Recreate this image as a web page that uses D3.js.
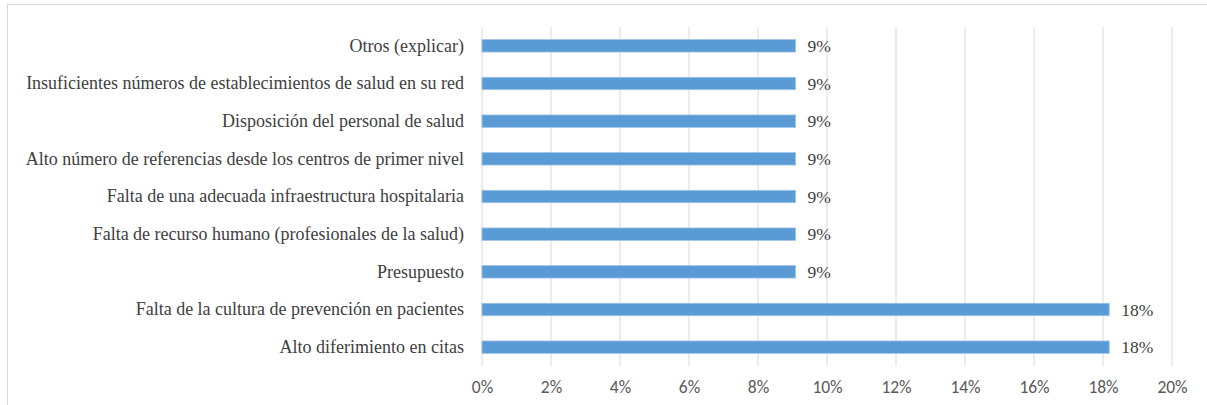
<!DOCTYPE html>
<html>
<head>
<meta charset="utf-8">
<script src="https://cdn.jsdelivr.net/npm/d3@7"></script>
<style>
  body { margin: 0; background: #fff; }
  text.lbl { font-family: "Liberation Serif", "Times New Roman", serif; fill: #404040; }
  text.tick-lbl { font-family: Carlito, Calibri, sans-serif; fill: #595959; }
</style>
</head>
<body>
<div id="chart"></div>
<script>
// categories from top to bottom
const categories = [
  "Otros (explicar)",
  "Insuficientes números de establecimientos de salud en su red",
  "Disposición del personal de salud",
  "Alto número de referencias desde los centros de primer nivel",
  "Falta de una adecuada infraestructura hospitalaria",
  "Falta de recurso humano (profesionales de la salud)",
  "Presupuesto",
  "Falta de la cultura de prevención en pacientes",
  "Alto diferimiento en citas"
];
const values = [0.0909, 0.0909, 0.0909, 0.0909, 0.0909, 0.0909, 0.0909, 0.1818, 0.1818];
const valueLabels = ["9%", "9%", "9%", "9%", "9%", "9%", "9%", "18%", "18%"];
const xTicks = [0, 0.02, 0.04, 0.06, 0.08, 0.10, 0.12, 0.14, 0.16, 0.18, 0.20];

const width = 1207, height = 405;
const margin = { top: 27, right: 35, bottom: 39, left: 482 };

const svg = d3.select("#chart")
  .append("svg")
  .attr("width", width)
  .attr("height", height);

// outer chart border
svg.append("rect")
  .attr("x", 7.5)
  .attr("y", 4.5)
  .attr("width", 1210)
  .attr("height", 420)
  .attr("fill", "none")
  .attr("stroke", "#d9d9d9")
  .attr("stroke-width", 1);

const x = d3.scaleLinear()
  .domain([0, 0.20])
  .range([margin.left, width - margin.right]);

const y = d3.scaleBand()
  .domain(categories)
  .range([margin.top, height - margin.bottom])
  .paddingInner(0.67)
  .paddingOuter(0.335);

// gridlines
svg.append("g")
  .selectAll("line")
  .data(xTicks)
  .enter()
  .append("line")
  .attr("x1", d => x(d))
  .attr("x2", d => x(d))
  .attr("y1", margin.top)
  .attr("y2", height - margin.bottom)
  .attr("stroke", "#d9d9d9")
  .attr("stroke-width", 1);

// x tick labels
const xAxis = svg.append("g")
  .attr("transform", `translate(0,${height - margin.bottom})`)
  .call(d3.axisBottom(x).tickValues(xTicks).tickFormat(d3.format(".0%")).tickSize(0).tickPadding(15));
xAxis.attr("font-family", null).attr("font-size", null);
xAxis.select(".domain").remove();
xAxis.selectAll("text")
  .attr("class", "tick-lbl")
  .attr("fill", null)
  .style("font-size", "17.5px");

// bars
svg.append("g")
  .selectAll("rect")
  .data(categories)
  .enter()
  .append("rect")
  .attr("x", x(0))
  .attr("y", d => y(d))
  .attr("width", (d, i) => x(values[i]) - x(0))
  .attr("height", y.bandwidth())
  .attr("fill", "#5b9bd5")
  .attr("stroke", "#9dc3e6")
  .attr("stroke-width", 0.8);

// category labels
const yAxis = svg.append("g")
  .attr("transform", `translate(${margin.left},0)`)
  .call(d3.axisLeft(y).tickSize(0).tickPadding(18));
yAxis.attr("font-family", null).attr("font-size", null);
yAxis.select(".domain").remove();
yAxis.selectAll("text")
  .attr("class", "lbl")
  .attr("fill", null)
  .style("font-size", "18px");

// value labels
svg.append("g")
  .selectAll("text")
  .data(categories)
  .enter()
  .append("text")
  .attr("class", "lbl")
  .attr("x", (d, i) => x(values[i]) + 12)
  .attr("y", d => y(d) + y.bandwidth() / 2)
  .attr("dy", "0.35em")
  .style("font-size", "17.5px")
  .text((d, i) => valueLabels[i]);
</script>
</body>
</html>
